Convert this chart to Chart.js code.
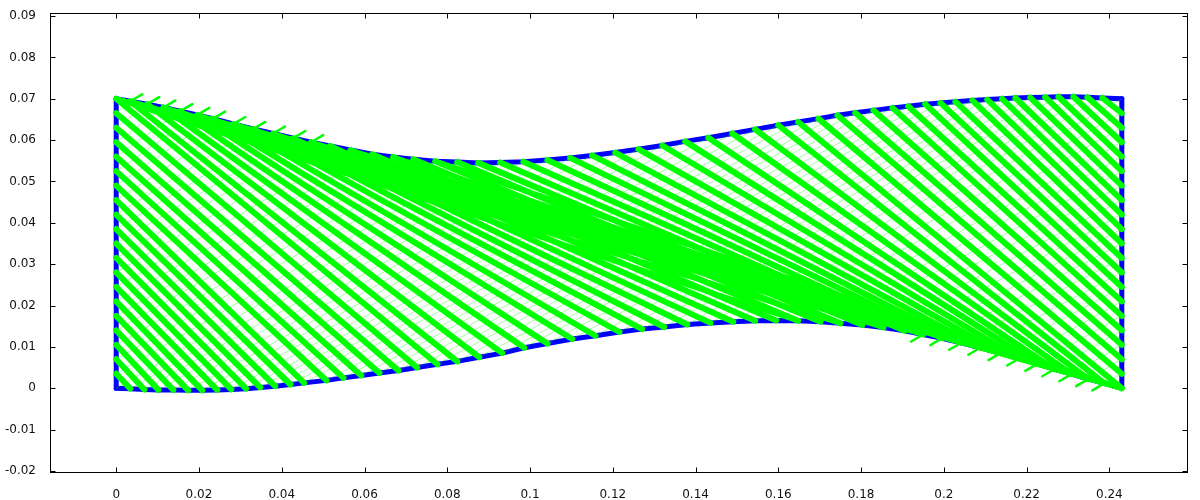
<!DOCTYPE html>
<html>
<head>
<meta charset="utf-8">
<script src="https://cdn.jsdelivr.net/npm/chart.js@4.4.1/dist/chart.umd.min.js"></script>
<style>
  body { margin: 0; background: #fff; }
  #wrap { width: 1200px; height: 500px; }
</style>
</head>
<body>
<div id="wrap"><canvas id="chart" width="1200" height="500"></canvas></div>
<script>
// boundary nodes
const topX = [0, 0.0034, 0.0075, 0.0114, 0.0155, 0.0196, 0.0234, 0.0283, 0.0331, 0.0379, 0.0428, 0.0471, 0.0517, 0.0566, 0.0619, 0.0669, 0.0718, 0.0771, 0.0824, 0.0875, 0.0928, 0.0984, 0.1042, 0.1097, 0.1150, 0.1206, 0.1262, 0.1320, 0.1375, 0.1431, 0.1489, 0.1544, 0.1600, 0.1648, 0.1697, 0.1743, 0.1786, 0.1830, 0.1876, 0.1914, 0.1955, 0.1992, 0.2028, 0.2069, 0.2105, 0.2141, 0.2173, 0.2209, 0.2245, 0.2277, 0.2313, 0.2347, 0.2383, 0.2430];
const topY = [0.0700, 0.0694, 0.0687, 0.0679, 0.0670, 0.0661, 0.0652, 0.0639, 0.0627, 0.0616, 0.0605, 0.0595, 0.0586, 0.0576, 0.0566, 0.0559, 0.0554, 0.0549, 0.0547, 0.0545, 0.0546, 0.0548, 0.0552, 0.0557, 0.0563, 0.0570, 0.0578, 0.0587, 0.0597, 0.0606, 0.0616, 0.0626, 0.0636, 0.0644, 0.0652, 0.0660, 0.0666, 0.0672, 0.0678, 0.0682, 0.0687, 0.0690, 0.0693, 0.0696, 0.0698, 0.0700, 0.0702, 0.0703, 0.0704, 0.0705, 0.0705, 0.0704, 0.0702, 0.0700];
const botX = [0, 0.0034, 0.0068, 0.0102, 0.0138, 0.0174, 0.0208, 0.0244, 0.0278, 0.0314, 0.0348, 0.0384, 0.0421, 0.0454, 0.0508, 0.0549, 0.0592, 0.0636, 0.0682, 0.0727, 0.0776, 0.0824, 0.0877, 0.0933, 0.0986, 0.1042, 0.1102, 0.1158, 0.1216, 0.1271, 0.1324, 0.1380, 0.1436, 0.1491, 0.1544, 0.1595, 0.1648, 0.1702, 0.1750, 0.1803, 0.1854, 0.1905, 0.1950, 0.1996, 0.2042, 0.2088, 0.2137, 0.2182, 0.2226, 0.2267, 0.2308, 0.2349, 0.2388, 0.2430];
const botY = [0, -0.0001, -0.0003, -0.0004, -0.0004, -0.0005, -0.0005, -0.0004, -0.0003, -0.0001, 0.0002, 0.0005, 0.0009, 0.0013, 0.0019, 0.0025, 0.0031, 0.0037, 0.0043, 0.0050, 0.0058, 0.0065, 0.0075, 0.0085, 0.0098, 0.0108, 0.0119, 0.0127, 0.0136, 0.0143, 0.0148, 0.0154, 0.0158, 0.0161, 0.0163, 0.0164, 0.0163, 0.0161, 0.0157, 0.0153, 0.0147, 0.0139, 0.0130, 0.0121, 0.0110, 0.0098, 0.0085, 0.0072, 0.0059, 0.0046, 0.0034, 0.0022, 0.0012, 0];
const edgeY = [0, 0.0035, 0.007, 0.0105, 0.014, 0.0175, 0.021, 0.0245, 0.028, 0.0315, 0.035, 0.0385, 0.042, 0.0455, 0.049, 0.0525, 0.056, 0.0595, 0.063, 0.0665, 0.07];
const leftX = 0;
const rightX = 0.243;

// bottom nodes reached by the shallow fan out of the top-left corner,
// top nodes sending a shallow line into the bottom-right corner
const fanBottom = [36, 38, 40, 42, 44, 46, 48, 50, 52];
const fanTop = [1, 3, 5, 7, 9, 11, 13, 15, 17];

// short green strokes poking out of the boundary
const tickTopX = [0.0063, 0.0104, 0.0143, 0.0184, 0.0225, 0.0263, 0.0312, 0.0360, 0.0408, 0.0457, 0.0500];
const tickTopY = [0.0711, 0.0704, 0.0696, 0.0687, 0.0678, 0.0669, 0.0656, 0.0644, 0.0633, 0.0622, 0.0612];
const tickBotX = [0.1921, 0.1967, 0.2013, 0.2059, 0.2108, 0.2153, 0.2197, 0.2238, 0.2279, 0.2320, 0.2359];
const tickBotY = [0.0113, 0.0104, 0.0093, 0.0081, 0.0068, 0.0055, 0.0042, 0.0029, 0.0017, 0.0005, -0.0005];

const xTicks = [0, 0.02, 0.04, 0.06, 0.08, 0.1, 0.12, 0.14, 0.16, 0.18, 0.2, 0.22, 0.24];
const yTicks = [-0.02, -0.01, 0, 0.01, 0.02, 0.03, 0.04, 0.05, 0.06, 0.07, 0.08, 0.09];

const T = i => ({ x: topX[i], y: topY[i] });
const B = i => ({ x: botX[i], y: botY[i] });
const L = k => ({ x: leftX, y: edgeY[k] });
const R = k => ({ x: rightX, y: edgeY[k] });

const N = topX.length - 1;   // 53
const M = edgeY.length - 1;  // 20

function seg(p, q, color, width, order) {
    return {
        data: [p, q], showLine: true, borderColor: color, borderWidth: width,
        pointRadius: 0, borderCapStyle: 'round', order: order
    };
}

const datasets = [];
const green = '#00ff00';

// thick family: left edge + top  ->  bottom + right edge
for (let k = 1; k < M; k++) datasets.push(seg(L(k), B(k), green, 6, 1));
for (let j = 0; j <= N - M; j++) datasets.push(seg(T(j), B(j + M), green, 6, 1));
for (let k = 1; k < M; k++) datasets.push(seg(T(N - M + k), R(k), green, 6, 1));

// the two shallow corner fans
fanBottom.forEach(i => datasets.push(seg(T(0), B(i), green, 5, 1)));
fanTop.forEach(i => datasets.push(seg(T(i), B(N), green, 5, 1)));

// thin crossing family
const thin = 'rgba(0,235,0,0.35)';
for (let k = 1; k < M; k++) datasets.push(seg(L(M - k), T(k), thin, 1, 2));
for (let i = 0; i <= N - M; i++) datasets.push(seg(B(i), T(i + M), thin, 1, 2));
for (let k = 1; k < M; k++) datasets.push(seg(B(N - M + k), R(M - k), thin, 1, 2));

// strokes at the boundary
tickTopX.forEach((x, i) => datasets.push(seg(T(i + 1), { x: x, y: tickTopY[i] }, green, 2.5, 0)));
tickBotX.forEach((x, i) => datasets.push(seg(B(i + 42), { x: x, y: tickBotY[i] }, green, 2.5, 0)));

// blue boundary
const blue = { showLine: true, borderColor: '#0000ff', borderWidth: 5, pointRadius: 0, borderCapStyle: 'round', borderJoinStyle: 'round', order: 3 };
datasets.push({ ...blue, data: topX.map((x, i) => ({ x: x, y: topY[i] })) });
datasets.push({ ...blue, data: botX.map((x, i) => ({ x: x, y: botY[i] })) });
datasets.push({ ...blue, data: [L(0), L(M)] });
datasets.push({ ...blue, data: [R(0), R(M)] });

const fmt = v => String(Number(v.toFixed(4)));

// gnuplot-like frame with inward ticks on all sides
const frame = {
    id: 'frame',
    afterDraw(c) {
        const { ctx, chartArea: a, scales: { x, y } } = c;
        const l = Math.round(a.left) + 0.5, r = Math.round(a.right) - 0.5;
        const t = Math.round(a.top) + 0.5, b = Math.round(a.bottom) - 0.5;
        ctx.save();
        ctx.strokeStyle = '#000';
        ctx.lineWidth = 1;
        ctx.strokeRect(l, t, r - l, b - t);
        ctx.beginPath();
        xTicks.forEach(v => {
            const px = Math.round(x.getPixelForValue(v)) + 0.5;
            ctx.moveTo(px, b); ctx.lineTo(px, b - 5);
            ctx.moveTo(px, t); ctx.lineTo(px, t + 5);
        });
        yTicks.forEach(v => {
            const py = Math.round(y.getPixelForValue(v)) + 0.5;
            ctx.moveTo(l, py); ctx.lineTo(l + 5, py);
            ctx.moveTo(r, py); ctx.lineTo(r - 5, py);
        });
        ctx.stroke();
        ctx.restore();
    }
};

const font = { family: 'DejaVu Sans', size: 12 };

new Chart(document.getElementById('chart'), {
    type: 'scatter',
    data: { datasets: datasets },
    options: {
        responsive: false,
        animation: false,
        events: [],
        layout: { padding: { top: 12, right: 12, left: 0, bottom: 0 } },
        plugins: { legend: { display: false }, tooltip: { enabled: false } },
        scales: {
            x: {
                type: 'linear', min: -0.016, max: 0.259,
                grid: { display: false }, border: { display: false },
                ticks: { font: font, color: '#111', padding: 7, autoSkip: false, maxRotation: 0, callback: fmt },
                afterBuildTicks: s => { s.ticks = xTicks.map(v => ({ value: v })); },
                afterFit: s => { s.height = 27; }
            },
            y: {
                type: 'linear', min: -0.0205, max: 0.0907,
                grid: { display: false }, border: { display: false },
                ticks: { font: font, color: '#111', padding: 6, autoSkip: false, callback: fmt },
                afterBuildTicks: s => { s.ticks = yTicks.map(v => ({ value: v })); },
                afterFit: s => { s.width = 50; }
            }
        }
    },
    plugins: [frame]
});
</script>
</body>
</html>
